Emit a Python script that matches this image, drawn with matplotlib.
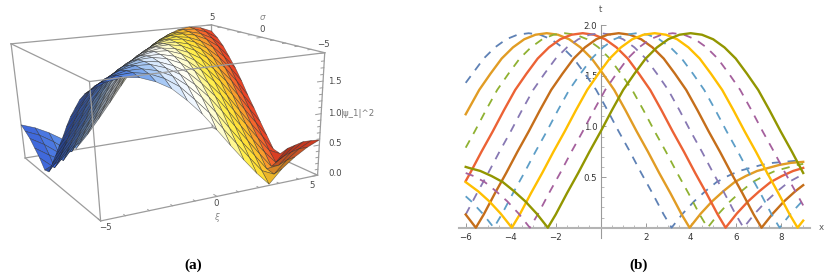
import numpy as np
import matplotlib
matplotlib.use("Agg")
import matplotlib.pyplot as plt
from matplotlib.colors import LinearSegmentedColormap

W, H = 832, 275
# ---------- panel (a): heights, rows sigma=-5..5, columns xi=-5..5
xi_grid = np.linspace(-5, 5, 17)
sigma_grid = np.linspace(-5, 5, 17)
psi_heights = [
 [1.81,1.89,1.92,1.89,1.81,1.69,1.50,1.28,1.02,.75,.49,.24,.02,.23,.38,.50,.585],
 [1.72,1.84,1.91,1.92,1.88,1.79,1.65,1.44,1.22,.95,.69,.43,.18,.08,.27,.42,.52],
 [1.60,1.76,1.86,1.91,1.91,1.86,1.76,1.60,1.40,1.15,.88,.62,.37,.11,.13,.31,.45],
 [1.44,1.65,1.79,1.88,1.92,1.91,1.84,1.72,1.55,1.34,1.09,.82,.56,.30,.05,.18,.34],
 [1.28,1.50,1.69,1.81,1.89,1.92,1.89,1.81,1.69,1.50,1.28,1.02,.75,.49,.24,.02,.23],
 [1.09,1.34,1.55,1.72,1.84,1.91,1.92,1.88,1.79,1.65,1.44,1.22,.95,.69,.43,.18,.08],
 [.88,1.15,1.40,1.60,1.76,1.86,1.91,1.91,1.86,1.76,1.60,1.40,1.15,.88,.62,.37,.11],
 [.69,.95,1.22,1.44,1.65,1.79,1.88,1.92,1.91,1.84,1.72,1.55,1.34,1.09,.82,.56,.30],
 [.49,.75,1.02,1.28,1.50,1.69,1.81,1.89,1.92,1.89,1.81,1.69,1.50,1.28,1.02,.75,.49],
 [.30,.56,.82,1.09,1.34,1.55,1.72,1.84,1.91,1.92,1.88,1.79,1.65,1.44,1.22,.95,.69],
 [.11,.37,.62,.88,1.15,1.40,1.60,1.76,1.86,1.91,1.91,1.86,1.76,1.60,1.40,1.15,.88],
 [.08,.18,.43,.69,.95,1.22,1.44,1.65,1.79,1.88,1.92,1.91,1.84,1.72,1.55,1.34,1.09],
 [.23,.02,.24,.49,.75,1.02,1.28,1.50,1.69,1.81,1.89,1.92,1.89,1.81,1.69,1.50,1.28],
 [.34,.18,.05,.30,.56,.82,1.09,1.34,1.55,1.72,1.84,1.91,1.92,1.88,1.79,1.65,1.44],
 [.45,.31,.13,.11,.37,.62,.88,1.15,1.40,1.60,1.76,1.86,1.91,1.91,1.86,1.76,1.60],
 [.52,.42,.27,.08,.18,.43,.69,.95,1.22,1.44,1.65,1.79,1.88,1.92,1.91,1.84,1.72],
 [.585,.50,.38,.23,.02,.24,.49,.75,1.02,1.28,1.50,1.69,1.81,1.89,1.92,1.89,1.81],
]
z_top = 1.92
xi_labels = [("\u22125", 106, 228), ("0", 216, 204), ("5", 312, 185)]
sigma_labels = [("5", 212, 17), ("0", 262, 30), ("\u22125", 323, 45)]
z_labels = [("0.0", 328, 173), ("0.5", 328, 143), ("1.0", 328, 113), ("1.5", 328, 81)]

# ---------- panel (b): curves
blue_x = [-6,-5.7,-5.2,-4.7,-4.2,-3.7,-3.2,-2.7,-2.2,-1.7,-1.2,-.7,-.2,.3,.8,1.3,1.8,2.3,2.8,3.15,3.65,4.15,4.65,5.15,5.65,6.15,6.65,7.15,7.65,8.15,8.65,9]
blue_y = [1.43,1.52,1.67,1.78,1.86,1.905,1.92,1.905,1.86,1.78,1.67,1.52,1.36,1.16,.95,.75,.54,.34,.13,0,.14,.26,.36,.45,.51,.56,.59,.62,.64,.65,.66,.66]
orange_x = [-6,-5.4,-4.9,-4.4,-3.9,-3.4,-2.9,-2.4,-1.9,-1.4,-.9,-.4,.1,.6,1.1,1.6,2.1,2.6,3.1,3.6,3.95,4.45,4.95,5.45,5.95,6.45,6.95,7.45,7.95,8.45,9]
orange_y = [1.12,1.36,1.52,1.67,1.78,1.86,1.905,1.92,1.905,1.86,1.78,1.67,1.52,1.36,1.16,.95,.75,.54,.34,.13,0,.14,.26,.36,.45,.51,.56,.59,.62,.64,.65]
green_x = [-6,-5.6,-5.1,-4.6,-4.1,-3.6,-3.1,-2.6,-2.1,-1.6,-1.1,-.6,-.1,.4,.9,1.4,1.9,2.4,2.9,3.4,3.9,4.4,4.75,5.25,5.75,6.25,6.75,7.25,7.75,8.25,8.75,9]
green_y = [.79,.95,1.16,1.36,1.52,1.67,1.78,1.86,1.905,1.92,1.905,1.86,1.78,1.67,1.52,1.36,1.16,.95,.75,.54,.34,.13,0,.14,.26,.36,.45,.51,.56,.59,.62,.63]
red_x = [-6,-5.8,-5.3,-4.8,-4.3,-3.8,-3.3,-2.8,-2.3,-1.8,-1.3,-.8,-.3,.2,.7,1.2,1.7,2.2,2.7,3.2,3.7,4.2,4.7,5.2,5.55,6.05,6.55,7.05,7.55,8.05,8.55,9]
red_y = [.46,.54,.75,.95,1.16,1.36,1.52,1.67,1.78,1.86,1.905,1.92,1.905,1.86,1.78,1.67,1.52,1.36,1.16,.95,.75,.54,.34,.13,0,.14,.26,.36,.45,.51,.56,.59]
purple_x = [-6,-5.5,-5,-4.5,-4,-3.5,-3,-2.5,-2,-1.5,-1,-.5,0,.5,1,1.5,2,2.5,3,3.5,4,4.5,5,5.5,6,6.35,6.85,7.35,7.85,8.35,8.85,9]
purple_y = [.13,.34,.54,.75,.95,1.16,1.36,1.52,1.67,1.78,1.86,1.905,1.92,1.905,1.86,1.78,1.67,1.52,1.36,1.16,.95,.75,.54,.34,.13,0,.14,.26,.36,.45,.51,.53]
brown_x = [-6,-5.55,-5.2,-4.7,-4.2,-3.7,-3.2,-2.7,-2.2,-1.7,-1.2,-.7,-.2,.3,.8,1.3,1.8,2.3,2.8,3.3,3.8,4.3,4.8,5.3,5.8,6.3,6.8,7.15,7.65,8.15,8.65,9]
brown_y = [.13,0,.13,.34,.54,.75,.95,1.16,1.36,1.52,1.67,1.78,1.86,1.905,1.92,1.905,1.86,1.78,1.67,1.52,1.36,1.16,.95,.75,.54,.34,.13,0,.14,.26,.36,.42]
cyan_x = [-6,-5.75,-5.25,-4.75,-4.4,-3.9,-3.4,-2.9,-2.4,-1.9,-1.4,-.9,-.4,.1,.6,1.1,1.6,2.1,2.6,3.1,3.6,4.1,4.6,5.1,5.6,6.1,6.6,7.1,7.6,7.95,8.45,8.95,9]
cyan_y = [.31,.26,.14,0,.13,.34,.54,.75,.95,1.16,1.36,1.52,1.67,1.78,1.86,1.905,1.92,1.905,1.86,1.78,1.67,1.52,1.36,1.16,.95,.75,.54,.34,.13,0,.14,.26,.27]
yellow_x = [-6,-5.45,-4.95,-4.45,-3.95,-3.6,-3.1,-2.6,-2.1,-1.6,-1.1,-.6,-.1,.4,.9,1.4,1.9,2.4,2.9,3.4,3.9,4.4,4.9,5.4,5.9,6.4,6.9,7.4,7.9,8.4,8.75,9]
yellow_y = [.45,.36,.26,.14,0,.13,.34,.54,.75,.95,1.16,1.36,1.52,1.67,1.78,1.86,1.905,1.92,1.905,1.86,1.78,1.67,1.52,1.36,1.16,.95,.75,.54,.34,.13,0,.07]
magenta_x = [-6,-5.65,-5.15,-4.65,-4.15,-3.65,-3.15,-2.8,-2.3,-1.8,-1.3,-.8,-.3,.2,.7,1.2,1.7,2.2,2.7,3.2,3.7,4.2,4.7,5.2,5.7,6.2,6.7,7.2,7.7,8.2,8.7,9]
magenta_y = [.54,.51,.45,.36,.26,.14,0,.13,.34,.54,.75,.95,1.16,1.36,1.52,1.67,1.78,1.86,1.905,1.92,1.905,1.86,1.78,1.67,1.52,1.36,1.16,.95,.75,.54,.34,.22]
olive_x = [-6,-5.85,-5.35,-4.85,-4.35,-3.85,-3.35,-2.85,-2.35,-2,-1.5,-1,-.5,0,.5,1,1.5,2,2.5,3,3.5,4,4.5,5,5.5,6,6.5,7,7.5,8,8.5,9]
olive_y = [.60,.59,.56,.51,.45,.36,.26,.14,0,.13,.34,.54,.75,.95,1.16,1.36,1.52,1.67,1.78,1.86,1.905,1.92,1.905,1.86,1.78,1.67,1.52,1.36,1.16,.95,.75,.54]

curves = [
    (blue_x, blue_y, "#5E81B5", True), (orange_x, orange_y, "#E19C24", False),
    (green_x, green_y, "#8FB131", True), (red_x, red_y, "#EC6235", False),
    (purple_x, purple_y, "#8778B3", True), (brown_x, brown_y, "#C56E1A", False),
    (cyan_x, cyan_y, "#5D9EC7", True), (yellow_x, yellow_y, "#FFBF00", False),
    (magenta_x, magenta_y, "#A5609D", True), (olive_x, olive_y, "#929600", False),
]
x_ticks_b = [-6, -4, -2, 2, 4, 6, 8]
y_ticks_b = [0.5, 1.0, 1.5, 2.0]

fig = plt.figure(figsize=(W / 100, H / 100), dpi=100, facecolor="white")
FS = 6.2
TXT = "#4a4a4a"

def px_text(px, py, s, **kw):
    kw.setdefault("ha", "center")
    kw.setdefault("va", "center")
    return fig.text(px / W, 1 - py / H, s, **kw)

# ---------- camera of panel (a), fitted to where the box corners sit in the picture
corner_world = [(-5,-5,0),(5,-5,0),(-5,5,0),(5,5,0),(-5,-5,z_top),(5,-5,z_top),(-5,5,z_top),(5,5,z_top)]
corner_px = [(100.5,221.5),(317,175),(25,157),(213,128),(90,82),(325,52),(11,44),(211,25)]
rows, rhs = [], []
for (x, y, z), (u, v) in zip(corner_world, corner_px):
    rows.append([x, y, z, 1, 0, 0, 0, 0, -u*x, -u*y, -u*z]); rhs.append(u)
    rows.append([0, 0, 0, 0, x, y, z, 1, -v*x, -v*y, -v*z]); rhs.append(v)
sol = np.linalg.lstsq(np.array(rows, float), np.array(rhs, float), rcond=None)[0]
P = np.append(sol, 1.0).reshape(3, 4)

ax3 = fig.add_axes([0, (H - 310) / H, 340 / W, 340 / H], projection="3d")
def camera():
    A = ax3.transData.get_matrix()
    flip = np.array([[1, 0, 0], [0, -1, H], [0, 0, 1.0]])
    Q = np.linalg.inv(A) @ flip @ P
    return np.array([Q[0], Q[1], [0, 0, 0, -1.0], Q[2]])
ax3.get_proj = camera
ax3.set_axis_off()
ax3.computed_zorder = False
ax3.set_xlim(-5, 5); ax3.set_ylim(-5, 5); ax3.set_zlim(0, z_top)

XI, SIG = np.meshgrid(xi_grid, sigma_grid)
Z = np.array(psi_heights)
cmap = LinearSegmentedColormap.from_list("surf", [
    (0.0, "#3a62d8"), (0.15, "#5585e6"), (0.25, "#8fb8f0"), (0.35, "#dcecff"),
    (0.45, "#ffffff"), (0.55, "#fffdc8"), (0.65, "#ffef50"), (0.75, "#ffd92e"),
    (0.85, "#f99a2c"), (0.93, "#f2552c"), (1.0, "#e43a24")])
xi_mid = (XI[:-1, :-1] + XI[1:, 1:]) / 2
slope = ((Z[:-1, 1:] + Z[1:, 1:]) - (Z[:-1, :-1] + Z[1:, :-1])) / 2 / (xi_grid[1] - xi_grid[0])
shade = np.clip(1 - 0.85 * np.clip(slope, 0, 1), 0.62, 1)[..., None]
fc = cmap((xi_mid + 5) / 10)
fc[..., :3] *= shade

BOX = "#9c9c9c"
def edge(a, b, z):
    ax3.plot(*zip(a, b), color=BOX, lw=0.9, zorder=z, clip_on=False)

for a, b in [((-5,5,z_top),(5,5,z_top)), ((5,5,z_top),(5,-5,z_top)), ((-5,5,0),(5,5,0)),
             ((5,5,0),(5,-5,0)), ((5,5,0),(5,5,z_top)), ((-5,5,0),(-5,5,z_top)), ((-5,5,0),(-5,-5,0))]:
    edge(a, b, 1)
surf = ax3.plot_surface(XI, SIG, Z, rstride=1, cstride=1, facecolors=fc, shade=False,
                        edgecolor=(0.13, 0.13, 0.13, 0.6), linewidth=0.42, zorder=2, antialiased=True)
surf.set_clip_on(False)
for a, b in [((-5,-5,z_top),(-5,5,z_top)), ((-5,-5,z_top),(5,-5,z_top)), ((-5,-5,0),(-5,-5,z_top)),
             ((5,-5,0),(5,-5,z_top)), ((-5,-5,0),(5,-5,0))]:
    edge(a, b, 3)
for t in range(-5, 6):
    L = 0.28 if t in (-5, 0, 5) else 0.16
    ax3.plot([t, t], [-5, -5 + L], [0, 0], color=BOX, lw=0.7, zorder=3, clip_on=False)
    ax3.plot([5 - L, 5], [t, t], [z_top, z_top], color=BOX, lw=0.7, zorder=1, clip_on=False)
for t in np.arange(0, 1.9, 0.1):
    L = 0.28 if abs(t * 2 - round(t * 2)) < 1e-6 else 0.14
    ax3.plot([5 - L, 5], [-5, -5], [t, t], color=BOX, lw=0.7, zorder=3, clip_on=False)

for s, x, y in xi_labels + sigma_labels:
    px_text(x, y, s, fontsize=FS, color=TXT)
for s, x, y in z_labels:
    px_text(x, y, s, fontsize=FS, color=TXT, ha="left")
px_text(216, 217, "\u03be", fontsize=FS, color="#8a8a8a", style="italic")
px_text(262, 18, "\u03c3", fontsize=FS, color="#8a8a8a", style="italic")
px_text(341, 113, "|\u03c8_1|^2", fontsize=FS, color="#777777", ha="left")

# ---------- panel (b)
x0, sx = 600.7, 22.5
y0, sy = 227.7, 101.3
xlo, xhi, ylo, yhi = -6.3, 9.3, -0.105, 2.0
axb = fig.add_axes([(x0 + xlo * sx) / W, (H - (y0 - ylo * sy)) / H, (xhi - xlo) * sx / W, (yhi - ylo) * sy / H])
axb.set_xlim(xlo, xhi); axb.set_ylim(ylo, yhi)
axb.patch.set_alpha(0)
for xs, ys, col, dashed in curves:
    if dashed:
        axb.plot(xs, ys, color=col, lw=1.3, dashes=(4.6, 4.1), dash_capstyle="butt", clip_on=False, zorder=3)
    else:
        axb.plot(xs, ys, color=col, lw=1.7, solid_joinstyle="round", clip_on=False, zorder=3)
for side in ("top", "right"):
    axb.spines[side].set_visible(False)
axb.spines["left"].set_position(("data", 0))
axb.spines["bottom"].set_position(("data", 0))
axb.spines["left"].set_color("#9a9a9a"); axb.spines["left"].set_linewidth(0.8)
axb.spines["bottom"].set_color("#b4b4b4"); axb.spines["bottom"].set_linewidth(1.5)
axb.set_xticks(x_ticks_b)
axb.set_xticks(np.arange(-6, 9.01, 0.5), minor=True)
axb.set_yticks(y_ticks_b)
axb.set_yticks(np.arange(0.1, 2.01, 0.1), minor=True)
axb.tick_params(axis="both", which="major", direction="in", length=3.5, width=0.6, color="#8a8a8a",
                labelsize=FS, labelcolor="#333333", pad=2.5)
axb.tick_params(axis="both", which="minor", direction="in", length=2, width=0.5, color="#a0a0a0")
axb.tick_params(axis="x", which="major", pad=3.5)
px_text(600.7, 10, "t", fontsize=FS, color="#555555")
px_text(821, 228, "x", fontsize=FS, color="#555555")

for s, x in (("(a)", 193), ("(b)", 639)):
    px_text(x, 265, s, fontsize=11, fontweight="bold", family="Liberation Serif", color="black")

fig.savefig("out.png", dpi=100)
